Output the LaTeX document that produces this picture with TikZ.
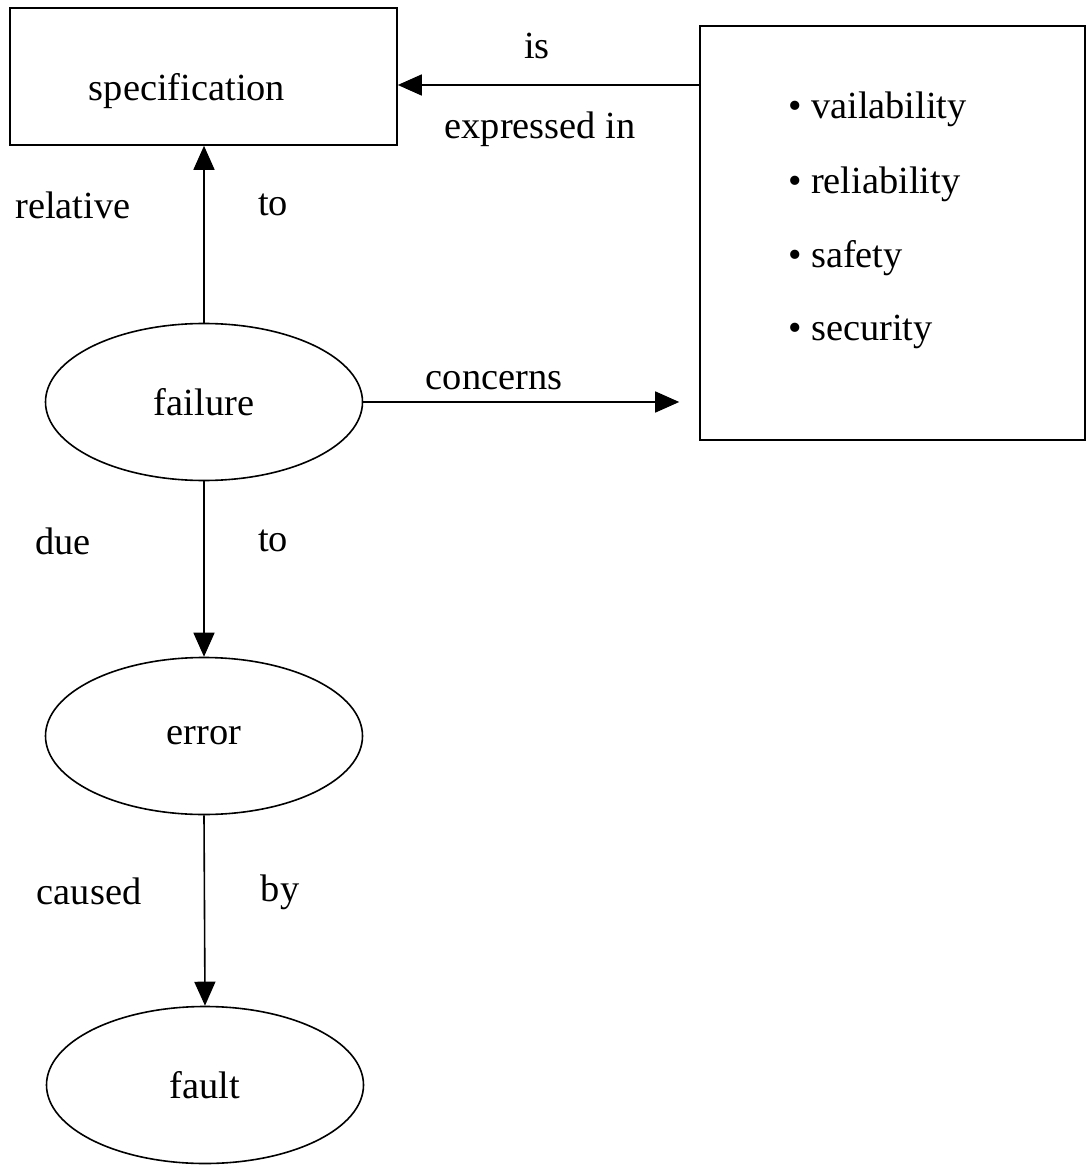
\documentclass[tikz,border=0pt]{standalone}
\usepackage{fontspec}
\setmainfont{Liberation Serif}
\usetikzlibrary{arrows.meta,shapes.geometric}
\begin{document}
\begin{tikzpicture}[x=0.5pt,y=-0.5pt,font=\fontsize{19.2}{23}\selectfont,
	arr/.style={-{Triangle[length=12pt,width=10.5pt]}, line width=0.8pt}]
		\useasboundingbox (0,0) rectangle (1087,1165);
		\begin{scope}[every node/.style={draw, rectangle, line width=0.8pt, inner sep=0pt}]
			\node (spec)[minimum width=193.5pt, minimum height=68.5pt] at (203.5,76.5) {};
			\node (rbox)[minimum width=192.5pt, minimum height=207pt] at (892.5,233) {};
		\end{scope}
		\node (spectext) at (187,91) {specification};
		\begin{scope}[every node/.style={anchor=west}]
			\node (b1) at (781,109) {\textbullet\ vailability};
			\node (b2) at (781,184) {\textbullet\ reliability};
			\node (b3) at (781,258) {\textbullet\ safety};
			\node (b4) at (781,332) {\textbullet\ security};
		\end{scope}
		\begin{scope}[every node/.style={draw, ellipse, line width=0.8pt, minimum width=158.5pt, minimum height=78.5pt, inner sep=0pt}]
			\node (failure) at (204,402) {failure};
			\node (error) at (204,736) {error};
			\node (fault) at (205,1085) {fault};
		\end{scope}
		% edge labels
		\node (is) at (537,46) {is};
		\node (expr) at (540,129) {expressed in};
		\node (rel) at (73,205) {relative};
		\node (relto) at (273,205) {to};
		\node (conc) at (494,381) {concerns};
		\node (due) at (63,541) {due};
		\node (dueto) at (273,541) {to};
		\node (caus) at (89,891) {caused};
		\node (causby) at (280,892) {by};
		\coordinate (isrow) at (0,85);
		\begin{scope}[every edge/.style={draw, arr}]
			\path (rbox.west |- isrow) edge (spec.east |- isrow);
			\path (failure.north) edge (failure.north |- spec.south);
			\path (failure.east) edge[shorten >=10pt] (failure.east -| rbox.west);
			\path (failure.south) edge (error.north);
			\path (error.south) edge (fault.north);
		\end{scope}
	\end{tikzpicture}
\end{document}
